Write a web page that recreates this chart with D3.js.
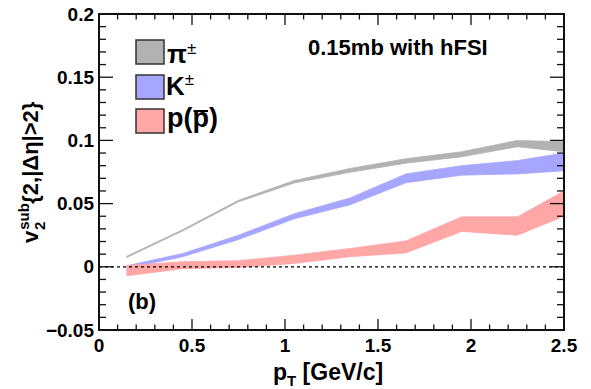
<!DOCTYPE html>
<html>
<head>
<meta charset="utf-8">
<script src="https://cdn.jsdelivr.net/npm/d3@7"></script>
<style>
  body { margin: 0; background: #fff; }
  text { font-family: "Liberation Sans", Arial, Helvetica, sans-serif; font-weight: bold; fill: #000; }
</style>
</head>
<body>
<svg id="chart" width="591" height="389"></svg>
<script>
// pT bin centres and v2 band edges
var pt = [0.15, 0.45, 0.75, 1.05, 1.35, 1.65, 1.95, 2.25, 2.5];
var pionLo = [0.0074, 0.0284, 0.0514, 0.0663, 0.0748, 0.0820, 0.0870, 0.0950, 0.0910];
var pionHi = [0.0084, 0.0294, 0.0526, 0.0683, 0.0778, 0.0855, 0.0910, 0.1000, 0.0990];
var kaonLo = [-0.0012, 0.0080, 0.0215, 0.0380, 0.0490, 0.0665, 0.0725, 0.0735, 0.0760];
var kaonHi = [0.0008, 0.0105, 0.0250, 0.0420, 0.0545, 0.0735, 0.0800, 0.0840, 0.0900];
var protonLo = [-0.0070, -0.0015, -0.0005, 0.0027, 0.0080, 0.0110, 0.0280, 0.0250, 0.0400];
var protonHi = [0.0010, 0.0040, 0.0048, 0.0092, 0.0145, 0.0205, 0.0395, 0.0395, 0.0600];

var xTicks = [0, 0.5, 1, 1.5, 2, 2.5];
var yTicks = [-0.05, 0, 0.05, 0.1, 0.15, 0.2];

var svg = d3.select("#chart");
var frameL = 99, frameR = 564, frameT = 14, frameB = 330;

var x = d3.scaleLinear().domain([0, 2.5]).range([frameL, frameR]);
var y = d3.scaleLinear().domain([-0.05, 0.2]).range([frameB, frameT]);

var series = [
    {name: "pion", lo: pionLo, hi: pionHi, color: "#b2b2b2"},
    {name: "kaon", lo: kaonLo, hi: kaonHi, color: "#a6a6ff"},
    {name: "proton", lo: protonLo, hi: protonHi, color: "#ffa6a6"}
];

svg.append("clipPath").attr("id", "frame")
    .append("rect").attr("x", frameL).attr("y", frameT)
    .attr("width", frameR - frameL).attr("height", frameB - frameT);

var bands = svg.append("g").attr("clip-path", "url(#frame)");

series.forEach(function(s) {
    var area = d3.area()
        .x(function(d, i) { return x(pt[i]); })
        .y0(function(d, i) { return y(s.lo[i]); })
        .y1(function(d, i) { return y(s.hi[i]); });
    bands.append("path")
        .datum(pt)
        .attr("d", area)
        .attr("fill", s.color)
        .attr("stroke", s.color)
        .attr("stroke-width", 0.8)
        .attr("stroke-linejoin", "round");
});

// dashed zero line
svg.append("line")
    .attr("x1", frameL).attr("x2", frameR)
    .attr("y1", y(0)).attr("y2", y(0))
    .attr("stroke", "#000").attr("stroke-width", 1.3)
    .attr("stroke-dasharray", "3,3");

// ticks on all four sides
var ticks = svg.append("g").attr("stroke", "#111").attr("stroke-width", 1.3);
d3.range(0, 2.501, 0.1).forEach(function(v) {
    var major = Math.abs(v * 2 - Math.round(v * 2)) < 1e-6;
    var len = major ? 11 : 5.5;
    ticks.append("line").attr("x1", x(v)).attr("x2", x(v)).attr("y1", frameB).attr("y2", frameB - len);
    ticks.append("line").attr("x1", x(v)).attr("x2", x(v)).attr("y1", frameT).attr("y2", frameT + len);
});
d3.range(-0.05, 0.2001, 0.01).forEach(function(v) {
    var major = Math.abs(v * 20 - Math.round(v * 20)) < 1e-6;
    var len = major ? 14 : 7;
    ticks.append("line").attr("y1", y(v)).attr("y2", y(v)).attr("x1", frameL).attr("x2", frameL + len);
    ticks.append("line").attr("y1", y(v)).attr("y2", y(v)).attr("x1", frameR).attr("x2", frameR - len);
});

svg.append("rect")
    .attr("x", frameL).attr("y", frameT)
    .attr("width", frameR - frameL).attr("height", frameB - frameT)
    .attr("fill", "none").attr("stroke", "#111").attr("stroke-width", 2);

// tick labels
var fmt = function(v) { return v < 0 ? "\u2212" + Math.abs(v) : String(v); };
svg.append("g").selectAll("text").data(xTicks).enter().append("text")
    .attr("x", function(d) { return x(d); })
    .attr("y", 352)
    .attr("text-anchor", "middle")
    .style("font-size", "19px")
    .text(fmt);
svg.append("g").selectAll("text").data(yTicks).enter().append("text")
    .attr("x", 94)
    .attr("y", function(d) { return y(d) + 6.5; })
    .attr("text-anchor", "end")
    .style("font-size", "19px")
    .text(fmt);

// axis titles
var xt = svg.append("text").attr("x", 273).attr("y", 380).style("font-size", "23px");
xt.append("tspan").text("p");
xt.append("tspan").attr("dy", 6).style("font-size", "15px").text("T");
xt.append("tspan").attr("dy", -6).text(" [GeV/c]");

var yt = svg.append("text").attr("transform", "translate(38,243) rotate(-90)").style("font-size", "22px");
yt.append("tspan").text("v");
yt.append("tspan").attr("dy", -9).attr("dx", 1).style("font-size", "15px").text("sub");
yt.append("tspan").attr("dy", 16).attr("dx", -27).style("font-size", "15px").text("2");
yt.append("tspan").attr("dy", -7).attr("dx", 18).text("{2,|\u0394\u03b7|>2}");

// annotations
svg.append("text").attr("x", 308).attr("y", 55).style("font-size", "22px").text("0.15mb with hFSI");
svg.append("text").attr("x", 128).attr("y", 309).style("font-size", "22px").text("(b)");

// legend
var legendY = [40, 75, 109];
series.forEach(function(s, i) {
    svg.append("rect")
        .attr("x", 136).attr("y", legendY[i])
        .attr("width", 28).attr("height", 24)
        .attr("fill", s.color).attr("stroke", "#333").attr("stroke-width", 1.5);
});
var l1 = svg.append("text").attr("x", 167).attr("y", 63).style("font-size", "26px");
l1.append("tspan").text("\u03c0");
l1.append("tspan").attr("dy", -9).style("font-size", "17px").style("font-weight", "normal").text("\u00b1");
var l2 = svg.append("text").attr("x", 166).attr("y", 95).style("font-size", "26px");
l2.append("tspan").text("K");
l2.append("tspan").attr("dy", -10).style("font-size", "17px").style("font-weight", "normal").text("\u00b1");
var l3 = svg.append("text").attr("x", 167).attr("y", 127).style("font-size", "27px");
l3.append("tspan").text("p(");
l3.append("tspan").attr("class", "pbar").text("p");
l3.append("tspan").text(")");
var pb = l3.select(".pbar").node();
var ext = pb.getExtentOfChar(0);
svg.append("line")
    .attr("x1", ext.x + 1).attr("x2", ext.x + ext.width - 1)
    .attr("y1", 111).attr("y2", 111)
    .attr("stroke", "#000").attr("stroke-width", 2);
</script>
</body>
</html>
